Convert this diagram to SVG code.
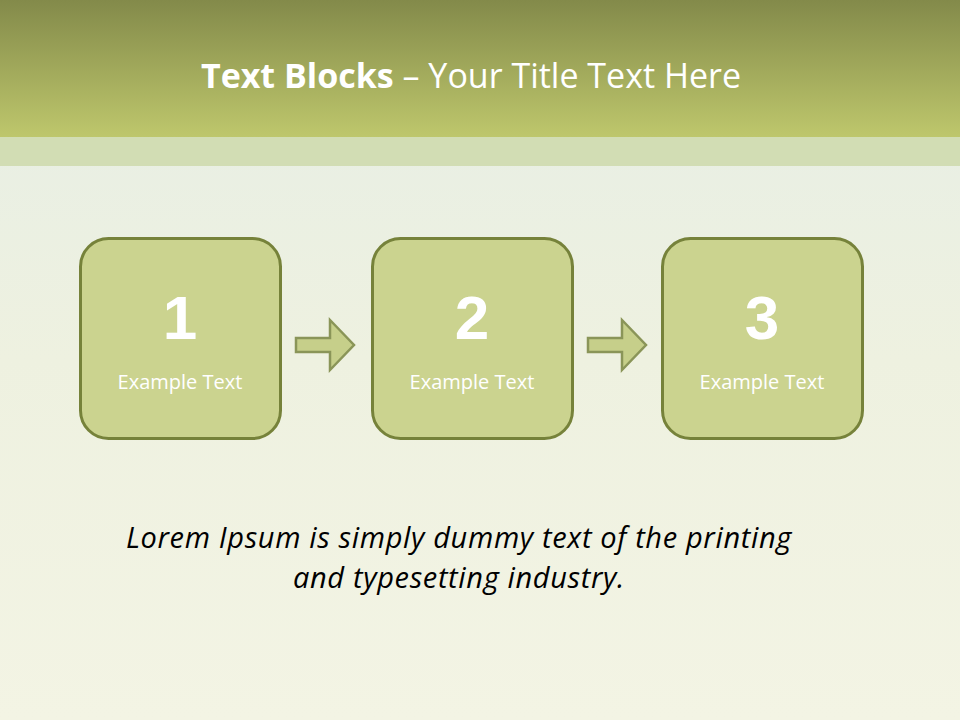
<svg xmlns="http://www.w3.org/2000/svg" width="960" height="720" viewBox="0 0 960 720">
<defs>
<linearGradient id="hdr" x1="0" y1="0" x2="0" y2="1">
<stop offset="0" stop-color="#838a4a"/>
<stop offset="1" stop-color="#bec76c"/>
</linearGradient>
<linearGradient id="bg" x1="0" y1="0" x2="0" y2="1">
<stop offset="0" stop-color="#e6eee6"/>
<stop offset="0.5" stop-color="#eef1e0"/>
<stop offset="1" stop-color="#f3f4e4"/>
</linearGradient>
<style>
.box{fill:#cbd38f;stroke:#76823a;stroke-width:3}
.num{font-family:"Liberation Sans",Arial,sans-serif;font-weight:bold;font-size:62px;fill:#ffffff;text-anchor:middle}
.lbl{font-family:"Open Sans","Liberation Sans",sans-serif;font-size:20px;fill:#ffffff;text-anchor:middle}
.arr{fill:#c6cf8a;stroke:#8a9558;stroke-width:2.5;stroke-linejoin:miter}
.ttl{font-family:"Open Sans","Liberation Sans",sans-serif;font-size:34px;fill:#ffffff;text-anchor:middle}
.body{font-family:"Open Sans","Liberation Sans",sans-serif;font-style:italic;font-size:29px;fill:#000000;text-anchor:middle;letter-spacing:0.65px}
</style>
</defs>
<rect x="0" y="0" width="960" height="720" fill="url(#bg)"/>
<rect x="0" y="0" width="960" height="137" fill="url(#hdr)"/>
<rect x="0" y="137" width="960" height="29" fill="#d2ddb4"/>
<text class="ttl" x="471" y="88"><tspan font-weight="bold">Text Blocks</tspan> – Your Title Text Here</text>
<g id="node1">
<rect class="box" x="80.5" y="238.5" width="200" height="200" rx="28"/>
<text class="num" x="180" y="339">1</text>
<text class="lbl" x="180" y="389">Example Text</text>
</g>
<g id="node2">
<rect class="box" x="372.5" y="238.5" width="200" height="200" rx="28"/>
<text class="num" x="472" y="339">2</text>
<text class="lbl" x="472" y="389">Example Text</text>
</g>
<g id="node3">
<rect class="box" x="662.5" y="238.5" width="200" height="200" rx="28"/>
<text class="num" x="762" y="339">3</text>
<text class="lbl" x="762" y="389">Example Text</text>
</g>
<g id="connectors">
<path class="arr" d="M296,338 L330,338 L330,320 L354,345 L330,370 L330,352 L296,352 Z"/>
<path class="arr" d="M588,338 L622,338 L622,320 L646,345 L622,370 L622,352 L588,352 Z"/>
</g>
<text class="body" x="459" y="548">Lorem Ipsum is simply dummy text of the printing</text>
<text class="body" x="459" y="588">and typesetting industry.</text>
</svg>
